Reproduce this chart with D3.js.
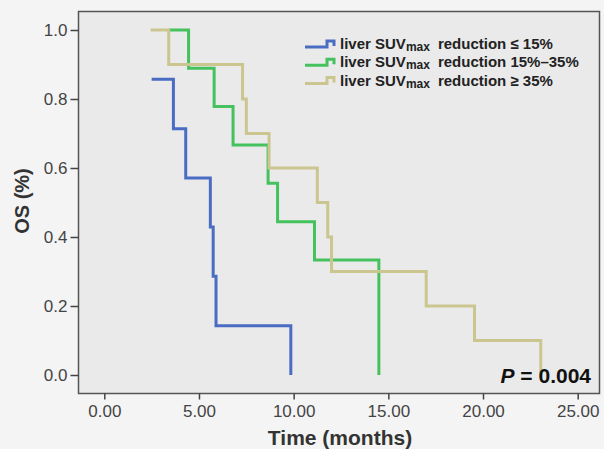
<!DOCTYPE html>
<html>
<head>
<meta charset="utf-8">
<script src="https://cdn.jsdelivr.net/npm/d3@7"></script>
<style>
  body { margin: 0; background: #f4f4f4; }
  svg { display: block; font-family: "Liberation Sans", Arial, sans-serif; }
</style>
</head>
<body>
<div id="chart"></div>
<script>
// Kaplan-Meier steps: time (months) and survival after that time
const blueTimes = [2.5, 3.65, 4.3, 5.6, 5.75, 5.9, 9.85];
const blueSurv  = [0.857, 0.714, 0.571, 0.429, 0.286, 0.143, 0];
const greenTimes = [3.4, 4.45, 5.8, 6.8, 8.65, 9.15, 11.1, 14.5];
const greenSurv  = [1.0, 0.889, 0.778, 0.667, 0.556, 0.444, 0.333, 0];
const tanTimes = [2.45, 3.4, 7.3, 7.5, 8.7, 11.25, 11.8, 12.0, 17.0, 19.55, 23.05];
const tanSurv  = [1.0, 0.9, 0.8, 0.7, 0.6, 0.5, 0.4, 0.3, 0.2, 0.1, 0];

const xTicks = [0, 5, 10, 15, 20, 25];
const yTicks = [0, 0.2, 0.4, 0.6, 0.8, 1.0];
const legendLabels = ["reduction \u2264 15%", "reduction 15%\u201335%", "reduction \u2265 35%"];
const colors = ["#4a6cc3", "#45c25e", "#cbc68f"];

const width = 604, height = 449;
const frame = {left: 78.5, top: 11.5, right: 599.5, bottom: 393.5};

const x = d3.scaleLinear().domain([0, 25]).range([104.3, 577.7]);
const y = d3.scaleLinear().domain([0, 1]).range([375, 30]);

const svg = d3.select("#chart").append("svg")
  .attr("width", width)
  .attr("height", height);

svg.append("rect")
  .attr("x", frame.left).attr("y", frame.top)
  .attr("width", frame.right - frame.left)
  .attr("height", frame.bottom - frame.top)
  .attr("fill", "#eaeaea")
  .attr("stroke", "#555")
  .attr("stroke-width", 1.5);

// axes
const xAxis = svg.append("g")
  .attr("transform", "translate(0," + frame.bottom + ")")
  .call(d3.axisBottom(x).tickValues(xTicks).tickFormat(d3.format(".2f")).tickSize(6).tickPadding(5).tickSizeOuter(0));
const yAxis = svg.append("g")
  .attr("transform", "translate(" + frame.left + ",0)")
  .call(d3.axisLeft(y).tickValues(yTicks).tickFormat(d3.format(".1f")).tickSize(8).tickPadding(3).tickSizeOuter(0));

[xAxis, yAxis].forEach(function(a) {
  a.select(".domain").remove();
  a.selectAll(".tick line").attr("stroke", "#444").attr("stroke-width", 1.5);
  a.selectAll(".tick text")
    .attr("fill", "#444")
    .style("font-size", "17px")
    .style("font-family", "'Liberation Sans', Arial, sans-serif");
});

svg.append("text")
  .attr("x", 340).attr("y", 445)
  .attr("text-anchor", "middle")
  .attr("font-weight", "bold")
  .attr("font-size", 21)
  .attr("fill", "#333")
  .text("Time (months)");

svg.append("text")
  .attr("transform", "translate(29,201) rotate(-90)")
  .attr("text-anchor", "middle")
  .attr("font-weight", "bold")
  .attr("font-size", 20)
  .attr("fill", "#333")
  .text("OS (%)");

// survival curves
const series = [
  {times: greenTimes, surv: greenSurv, color: colors[1]},
  {times: tanTimes, surv: tanSurv, color: colors[2]},
  {times: blueTimes, surv: blueSurv, color: colors[0]}
];

const line = d3.line()
  .x(function(d) { return x(d[0]); })
  .y(function(d) { return y(d[1]); })
  .curve(d3.curveStepAfter);

svg.selectAll(".km")
  .data(series)
  .enter()
  .append("path")
  .attr("class", "km")
  .attr("fill", "none")
  .attr("stroke", function(d) { return d.color; })
  .attr("stroke-width", 3)
  .attr("d", function(d) { return line(d3.zip(d.times, d.surv)); });

// legend
const legend = svg.append("g").attr("transform", "translate(305,0)");
legendLabels.forEach(function(label, i) {
  const cy = 44 + i * 18.3;
  legend.append("path")
    .attr("fill", "none")
    .attr("stroke", colors[i])
    .attr("stroke-width", 3)
    .attr("d", "M0," + (cy + 3) + "H22V" + (cy - 3) + "H29V" + (cy + 2));
  const t = legend.append("text")
    .attr("x", 35).attr("y", cy + 5)
    .attr("font-weight", "bold")
    .attr("font-size", 15)
    .attr("fill", "#222");
  t.append("tspan").text("liver SUV");
  t.append("tspan").attr("font-size", 12).attr("dy", 2).text("max");
  t.append("tspan").attr("dy", -2).attr("dx", 8).text(label);
});

// p value
const p = svg.append("text")
  .attr("x", 591).attr("y", 383)
  .attr("text-anchor", "end")
  .attr("font-weight", "bold")
  .attr("font-size", 21)
  .attr("fill", "#111");
p.append("tspan").attr("font-style", "italic").text("P");
p.append("tspan").text(" = 0.004");
</script>
</body>
</html>
